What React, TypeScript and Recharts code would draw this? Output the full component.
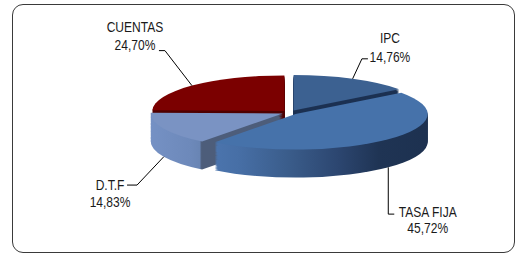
import React from "react";
import { PieChart, Pie, Cell } from "recharts";

const categories = ["IPC", "TASA FIJA", "D.T.F", "CUENTAS"];
const shares = [14.76, 45.72, 14.83, 24.7];

const W = 517;
const H = 257;
const TILT = 0.269; // vertical squash of the disc
const R = 132;
const CX = 290;
const CY = 112.5;
const DEPTH = 28; // thickness in screen px
const EXPLODE = 8;
const LAYERS = 26;
const CH = 680;

const TOP = ["#3c6191", "#4672aa", "#7a93c3", "#7b0000"];
const SIDE = ["#1c3152", "url(#sideTasa)", "url(#sideDtf)", "#4f0000"];

// leader line points and text spot, relative to where the line meets the slice
const LABEL_LAYOUT = [
  { path: [[9.3, -20], [15.3, -20]], dx: 37.3, lines: [-36, -17] },
  { path: [[0, 46.8], [6, 46.8]], dx: 39.5, lines: [49.8, 65.8] },
  { path: [[-26.7, 28.3], [-36.7, 28.3]], dx: -53.7, lines: [33.3, 50.3] },
  { path: [[-27, -35], [-33, -35]], dx: -57, lines: [-54, -36] },
];

const data = categories.map((name, i) => ({ name, value: shares[i] }));

const total = shares.reduce((a, b) => a + b, 0);
const midAngles = shares.map((v, i) => {
  const before = shares.slice(0, i).reduce((a, b) => a + b, 0);
  return 90 - (360 * (before + v / 2)) / total;
});
const rad = (d: number) => (d * Math.PI) / 180;

const FONT = "'Liberation Sans', Arial, sans-serif";
const NARROW = 0.86;

function Txt({ x, y, children }: { x: number; y: number; children: React.ReactNode }) {
  return (
    <text
      transform={`translate(${x},${y}) scale(${NARROW},1)`}
      x={0}
      y={0}
      textAnchor="middle"
      fontFamily={FONT}
      fontSize={14}
      fill="#1a1a1a"
    >
      {children}
    </text>
  );
}

function SliceLabel(props: any) {
  const { midAngle, index, name, value } = props;
  const phi = rad(midAngle);
  const front = Math.sin(phi) < 0;
  const ax = CX + (EXPLODE + R) * Math.cos(phi);
  const ay = CY - (EXPLODE + R) * Math.sin(phi) * TILT + (front ? DEPTH : 0);
  const lay = LABEL_LAYOUT[index];
  const pts = [[ax, ay], ...lay.path.map(([x, y]) => [ax + x, ay + y])];
  const pct = value.toFixed(2).replace(".", ",") + "%";
  return (
    <g>
      <polyline points={pts.map((p) => p.join(",")).join(" ")} fill="none" stroke="#000" strokeWidth={1} />
      <Txt x={ax + lay.dx} y={ay + lay.lines[0]}>{name}</Txt>
      <Txt x={ax + lay.dx} y={ay + lay.lines[1]}>{pct}</Txt>
    </g>
  );
}

export default function App() {
  const cyc = CY / TILT;
  const depthC = DEPTH / TILT;
  const step = depthC / LAYERS;
  // back slices first, front slices last
  const order = data.map((_, i) => i).sort((a, b) => Math.sin(rad(midAngles[b])) - Math.sin(rad(midAngles[a])));

  const slicePie = (s: number, layer: number, colors: string[]) => {
    const ox = EXPLODE * Math.cos(rad(midAngles[s]));
    const oy = -EXPLODE * Math.sin(rad(midAngles[s]));
    return (
      <Pie
        key={`p-${s}-${layer}`}
        data={data}
        dataKey="value"
        nameKey="name"
        cx={CX + ox}
        cy={cyc + oy + layer * step}
        outerRadius={R}
        startAngle={90}
        endAngle={-270}
        stroke="none"
        isAnimationActive={false}
      >
        {data.map((_, i) => (
          <Cell key={i} fill={i === s ? colors[s] : "none"} stroke="none" />
        ))}
      </Pie>
    );
  };

  const sides: React.ReactNode[] = [];
  order.forEach((s) => {
    for (let l = LAYERS; l >= 1; l--) sides.push(slicePie(s, l, SIDE));
  });
  const tops = order.map((s) => slicePie(s, 0, TOP));

  return (
    <div style={{ position: "fixed", left: 0, top: 0, width: W, height: H, overflow: "hidden", background: "#fff" }}>
      <div
        style={{
          position: "absolute",
          left: 12,
          top: 4,
          width: 503,
          height: 249,
          boxSizing: "border-box",
          border: "1px solid #3a3a3a",
          borderRadius: 11,
        }}
      />
      <div style={{ position: "absolute", left: 0, top: 0, width: W, height: CH, transform: `scaleY(${TILT})`, transformOrigin: "0 0" }}>
        <PieChart width={W} height={CH} margin={{ top: 0, right: 0, bottom: 0, left: 0 }}>
          <defs>
            <linearGradient id="sideTasa" x1="0" y1="0" x2="1" y2="0">
              <stop offset="0" stopColor="#4b74ad" />
              <stop offset="0.11" stopColor="#476fa6" />
              <stop offset="0.35" stopColor="#3a5c8a" />
              <stop offset="0.58" stopColor="#2c4670" />
              <stop offset="0.77" stopColor="#1f3454" />
              <stop offset="1" stopColor="#1d3150" />
            </linearGradient>
            <linearGradient id="sideDtf" x1="0" y1="0" x2="1" y2="0">
              <stop offset="0" stopColor="#7591c4" />
              <stop offset="0.3" stopColor="#6d89ba" />
              <stop offset="0.37" stopColor="#6985b4" />
              <stop offset="0.385" stopColor="#4d5d7a" />
              <stop offset="1" stopColor="#4d5d7a" />
            </linearGradient>
          </defs>
          {sides}
          {tops}
        </PieChart>
      </div>
      <div style={{ position: "absolute", left: 0, top: 0 }}>
        <PieChart width={W} height={H} margin={{ top: 0, right: 0, bottom: 0, left: 0 }}>
          <Pie
            data={data}
            dataKey="value"
            nameKey="name"
            cx={CX}
            cy={CY}
            outerRadius={R}
            startAngle={90}
            endAngle={-270}
            fill="none"
            stroke="none"
            label={SliceLabel}
            labelLine={false}
            isAnimationActive={false}
          />
        </PieChart>
      </div>
    </div>
  );
}
